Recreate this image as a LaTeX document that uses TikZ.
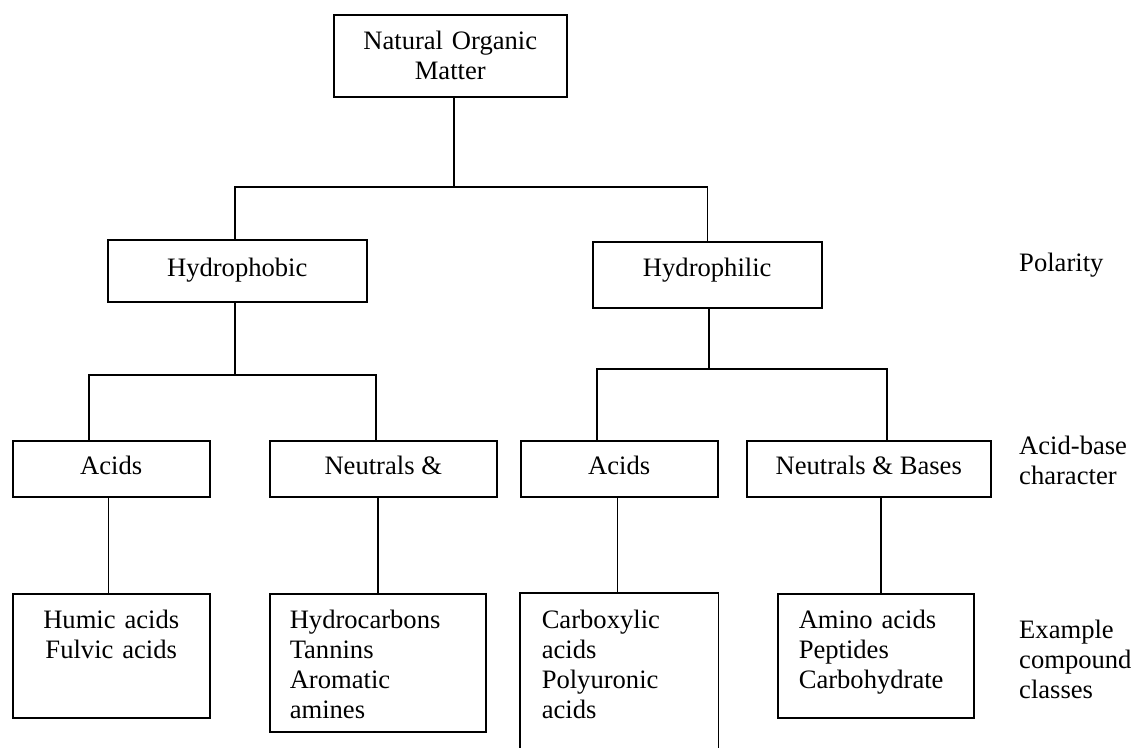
\documentclass[tikz,border=0pt]{standalone}
\usepackage{fontspec}
\setmainfont{Liberation Serif}
\newcommand{\boxfont}{\fontsize{26.6}{30}\selectfont}
\tikzset{
  box/.style={draw, line width=1.5pt, inner sep=0pt, anchor=north west, align=center, font=\boxfont},
  listbox/.style={box, align=left, inner xsep=21pt},
  side/.style={inner sep=0pt, anchor=north west, align=left, text width=116pt, text height=20pt, font=\boxfont},
  edge/.style={line width=1.5pt},
}

\begin{document}
\begin{tikzpicture}[x=1pt, y=-1pt]
  \useasboundingbox (0,0) rectangle (1135,747);

  % boxes
  \node [box, text width=233pt, text height=35pt, text depth=47pt] (nom) at (333, 14) {Natural Organic\\Matter};
  \node [box, minimum width=259pt, text height=37pt, text depth=25pt] (phob) at (107, 239) {Hydrophobic};
  \node [box, minimum width=229pt, text height=35pt, text depth=31pt] (phil) at (592, 241) {Hydrophilic};
  \node [box, minimum width=197pt, text height=34pt, text depth=22pt] (acids1) at (12, 440) {Acids};
  \node [box, minimum width=227pt, text height=34pt, text depth=22pt] (neut1) at (269, 440) {Neutrals \&};
  \node [box, minimum width=197pt, text height=34pt, text depth=22pt] (acids2) at (520, 440) {Acids};
  \node [box, minimum width=244pt, text height=34pt, text depth=22pt] (nb) at (746, 440) {Neutrals \& Bases};
  \node [box, text width=197pt, text height=35pt, text depth=89pt] (humic) at (12, 593) {Humic acids\\Fulvic acids};
  \node [listbox, inner xsep=20pt, text width=176pt, text height=35pt, text depth=103pt] (hydro) at (269, 593) {Hydrocarbons\\Tannins\\Aromatic\\amines};
  \node [listbox, draw=none, text width=155pt, text height=35pt, text depth=170pt] (carb) at (520, 593) {Carboxylic\\acids\\Polyuronic\\acids};
  \node [listbox, text width=154pt, text height=35pt, text depth=89pt] (amino) at (777, 593) {Amino acids\\Peptides\\Carbohydrate};

  % side labels
  \node [side] (pol) at (1019, 251) {Polarity};
  \node [side] (abc) at (1019, 434) {Acid-base\\character};
  \node [side] (ecc) at (1019, 618) {Example\\compound\\classes};

  % junctions
  \coordinate (j0) at (454, 187);
  \coordinate (j1) at (235, 375);
  \coordinate (j2) at (709, 369);
  \coordinate (b1l) at (89, 375);
  \coordinate (b1r) at (376, 375);
  \coordinate (b2l) at (597, 369);
  \coordinate (b2r) at (887, 369);

  % edges
  \draw [edge] (nom.south -| j0) to (j0);
  \draw [edge] (phob.north -| j1) |- (j0);
  \draw [edge] (phil.north) |- (j0);
  \draw [edge] (phob.south -| j1) to (j1);
  \draw [edge] (b1l |- acids1.north) to (b1l) to (b1r) to (b1r |- neut1.north);
  \draw [edge] (phil.south -| j2) to (j2);
  \draw [edge] (b2l |- acids2.north) to (b2l) to (b2r) to (b2r |- nb.north);
  \draw [edge] ([xshift=-3pt]humic.north) to ([xshift=-3pt]humic.north |- acids1.south);
  \draw [edge] (hydro.north) to (hydro.north |- neut1.south);
  \draw [edge] ([xshift=-2pt]carb.north) to ([xshift=-2pt]carb.north |- acids2.south);
  \draw [edge] ([xshift=5pt]amino.north) to ([xshift=5pt]amino.north |- nb.south);

  % open box
  \draw [line width=1.5pt] (carb.south west) to (carb.north west) to (carb.north east) to (carb.south east);
\end{tikzpicture}
\end{document}
